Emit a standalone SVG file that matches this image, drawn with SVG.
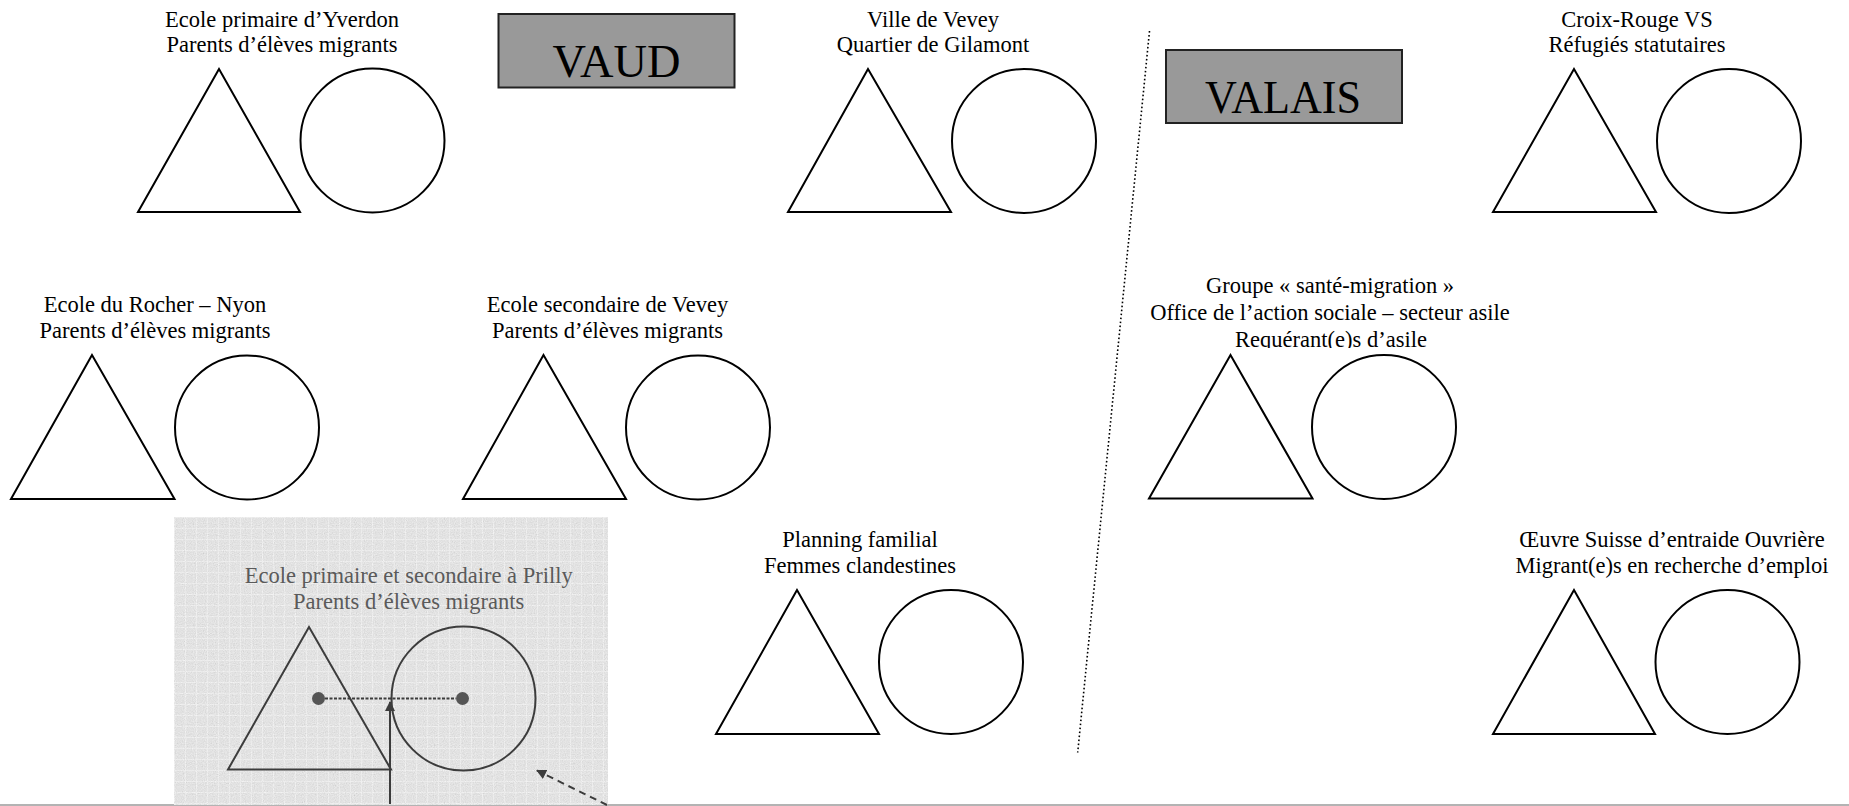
<svg xmlns="http://www.w3.org/2000/svg" width="1849" height="806" viewBox="0 0 1849 806">
<style>
  .lbl { font-family: "Liberation Serif", "Times New Roman", serif; font-size: 22.5px; fill: #000; text-anchor: middle; }
  .plbl { font-family: "Liberation Serif", "Times New Roman", serif; font-size: 22.5px; fill: #5a5a5a; text-anchor: middle; }
  .shape { fill: none; stroke: #000; stroke-width: 2; }
  .pshape { fill: none; stroke: #3c3c3c; stroke-width: 2; }
  .box { fill: #999999; stroke: #222; stroke-width: 2; }
  .title { font-family: "Liberation Serif", "Times New Roman", serif; font-size: 46px; fill: #000; text-anchor: middle; }
  .divider { stroke: #000; stroke-width: 1.6; stroke-dasharray: 1.6 2.4; fill: none; }
</style>
<defs>
  <pattern id="grid" width="11" height="11" patternUnits="userSpaceOnUse" x="174" y="517">
    <rect width="11" height="11" fill="#d9d9d9"/>
    <path d="M0 0.5 H11 M0.5 0 V11" stroke="#eaeaea" stroke-width="1"/>
  </pattern>
  <filter id="noise" x="0" y="0" width="1" height="1">
    <feTurbulence type="fractalNoise" baseFrequency="0.9" numOctaves="1" seed="7" result="n"/>
    <feColorMatrix in="n" type="matrix" values="0.4 0.4 0.4 0 0.25  0.4 0.4 0.4 0 0.25  0.4 0.4 0.4 0 0.25  0 0 0 0 0.45" result="g"/>
    <feComposite in="g" in2="SourceGraphic" operator="in"/>
  </filter>
  <marker id="arr" viewBox="0 0 10 10" refX="9" refY="5" markerWidth="10" markerHeight="10" markerUnits="userSpaceOnUse" orient="auto">
    <path d="M0 0 L10 5 L0 10 Z" fill="#3c3c3c"/>
  </marker>
  <clipPath id="reqclip">
    <rect x="1100" y="320" width="460" height="28"/>
  </clipPath>
</defs>

<rect width="1849" height="806" fill="#fff"/>

<!-- Region titles -->
<g id="vaud">
  <rect class="box" x="498.5" y="14" width="236" height="73.5"/>
  <text class="title" x="616.5" y="77" textLength="128" lengthAdjust="spacingAndGlyphs">VAUD</text>
</g>
<g id="valais">
  <rect class="box" x="1166" y="50" width="236" height="73"/>
  <text class="title" x="1283" y="113" textLength="156" lengthAdjust="spacingAndGlyphs">VALAIS</text>
</g>

<!-- Divider -->
<line class="divider" x1="1149.5" y1="31" x2="1077.7" y2="752.5"/>

<!-- Bottom edge line -->
<line x1="0" y1="805" x2="1849" y2="805" stroke="#9a9a9a" stroke-width="1.5"/>

<g id="yverdon">
  <text class="lbl" x="282" y="27">Ecole primaire d’Yverdon</text>
  <text class="lbl" x="282" y="52">Parents d’élèves migrants</text>
  <polygon class="shape" points="219,69 138,212 300,212"/>
  <circle class="shape" cx="372.5" cy="140.5" r="72"/>
</g>

<g id="vevey-gilamont">
  <text class="lbl" x="933" y="27">Ville de Vevey</text>
  <text class="lbl" x="933" y="52">Quartier de Gilamont</text>
  <polygon class="shape" points="868,69 788,212 951,212"/>
  <circle class="shape" cx="1024" cy="141" r="72"/>
</g>

<g id="croix-rouge">
  <text class="lbl" x="1637" y="27">Croix-Rouge VS</text>
  <text class="lbl" x="1637" y="52">Réfugiés statutaires</text>
  <polygon class="shape" points="1574,69 1493,212 1656,212"/>
  <circle class="shape" cx="1729" cy="141" r="72"/>
</g>

<g id="rocher-nyon">
  <text class="lbl" x="155" y="312">Ecole du Rocher – Nyon</text>
  <text class="lbl" x="155" y="338">Parents d’élèves migrants</text>
  <polygon class="shape" points="92,355 11,499 174.5,499"/>
  <circle class="shape" cx="247" cy="427.5" r="72"/>
</g>

<g id="secondaire-vevey">
  <text class="lbl" x="607.5" y="312">Ecole secondaire de Vevey</text>
  <text class="lbl" x="607.5" y="338">Parents d’élèves migrants</text>
  <polygon class="shape" points="543.5,355 463,499 626,499"/>
  <circle class="shape" cx="698" cy="427.5" r="72"/>
</g>

<g id="sante-migration">
  <text class="lbl" x="1330" y="293">Groupe « santé-migration »</text>
  <text class="lbl" x="1330" y="319.5">Office de l’action sociale – secteur asile</text>
  <text class="lbl" x="1331" y="346.5" clip-path="url(#reqclip)">Requérant(e)s d’asile</text>
  <polygon class="shape" points="1230.5,355 1149,498.5 1312.5,498.5"/>
  <circle class="shape" cx="1384" cy="427" r="72"/>
</g>

<g id="prilly">
  <rect x="174" y="517" width="434" height="288" fill="url(#grid)"/>
  <rect x="174" y="517" width="434" height="288" fill="#000" filter="url(#noise)"/>
  <text class="plbl" x="408.7" y="583">Ecole primaire et secondaire à Prilly</text>
  <text class="plbl" x="408.7" y="609">Parents d’élèves migrants</text>
  <polygon class="pshape" points="309,627 228,769.5 391,769.5"/>
  <circle class="pshape" cx="463.5" cy="698.5" r="72"/>
  <circle cx="318.5" cy="698.5" r="6.5" fill="#555"/>
  <circle cx="462.5" cy="698.5" r="6.5" fill="#555"/>
</g>

<g id="planning">
  <text class="lbl" x="860" y="547">Planning familial</text>
  <text class="lbl" x="860" y="573">Femmes clandestines</text>
  <polygon class="shape" points="797,590 716,734 879,734"/>
  <circle class="shape" cx="951" cy="662" r="72"/>
</g>

<g id="oeuvre-suisse">
  <text class="lbl" x="1672" y="547">Œuvre Suisse d’entraide Ouvrière</text>
  <text class="lbl" x="1672" y="573">Migrant(e)s en recherche d’emploi</text>
  <polygon class="shape" points="1574,590 1493,734 1655,734"/>
  <circle class="shape" cx="1727.5" cy="662" r="72"/>
</g>

<g id="connectors">
  <line x1="325" y1="698.5" x2="456" y2="698.5" stroke="#3c3c3c" stroke-width="2" stroke-dasharray="3 1.5"/>
  <line x1="390" y1="804" x2="390" y2="702" stroke="#3c3c3c" stroke-width="2" marker-end="url(#arr)"/>
  <line x1="607" y1="805" x2="537" y2="770.5" stroke="#3c3c3c" stroke-width="2" stroke-dasharray="7 5" marker-end="url(#arr)"/>
</g>
</svg>
